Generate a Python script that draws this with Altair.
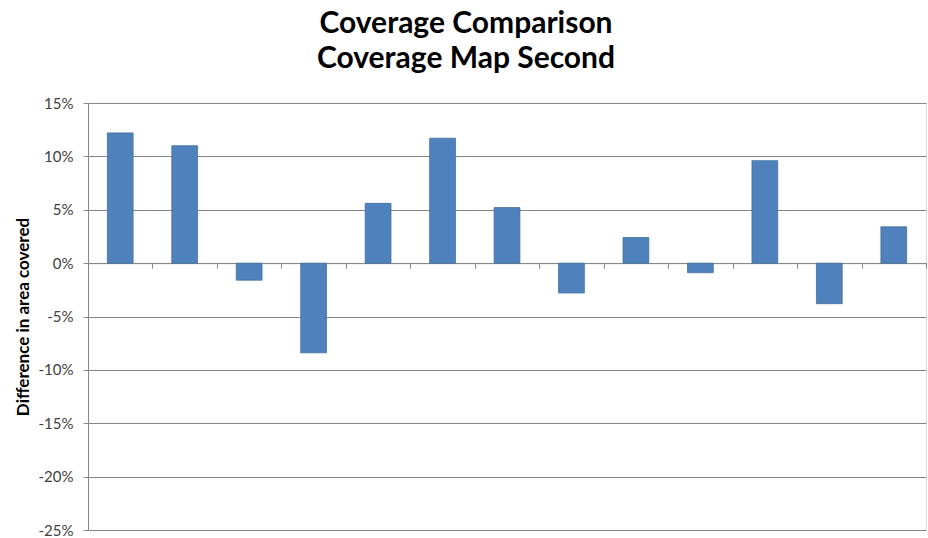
import altair as alt
import pandas as pd

categories = [str(i) for i in range(1, 14)]
values = [0.122, 0.110, -0.016, -0.084, 0.056, 0.117, 0.052, -0.028, 0.024, -0.009, 0.096, -0.038, 0.034]
y_ticks = [-0.25, -0.20, -0.15, -0.10, -0.05, 0.0, 0.05, 0.10, 0.15]

df = pd.DataFrame({"cat": categories, "val": values})

W, H = 838, 427
zero_from_bottom = H * 25 / 40

bars = alt.Chart(df).mark_bar(
    width=alt.RelativeBandSize(0.4), color="#4F81BD", stroke="#41719C", strokeWidth=0.8
).encode(
    x=alt.X("cat:N", sort=categories,
            scale=alt.Scale(paddingInner=0, paddingOuter=0),
            axis=alt.Axis(title=None, labels=False, tickBand="extent", tickSize=5,
                          tickColor="#868686", domainColor="#868686",
                          offset=-zero_from_bottom, grid=False)),
    y=alt.Y("val:Q", scale=alt.Scale(domain=[-0.25, 0.15], nice=False),
            axis=alt.Axis(values=y_ticks, format=".0%",
                          labelExpr="replace(datum.label, '\u2212', '-')",
                          title="Difference in area covered",
                          titleFont="Lato", titleFontSize=17, titleFontWeight="bold",
                          titleColor="#000000", titlePadding=6,
                          labelFont="Lato", labelFontSize=15, labelColor="#404040",
                          labelPadding=10, tickSize=5, tickColor="#868686",
                          domainColor="#868686", gridColor="#868686", gridWidth=1)),
)

chart = bars.properties(
    width=W, height=H,
    title=alt.TitleParams(["Coverage Comparison", "Coverage Map Second"], font="Lato",
                          fontSize=30, fontWeight="bold", color="#000000",
                          anchor="middle", dx=-41, offset=22, lineHeight=35),
    autosize=alt.AutoSizeParams(type="none"),
    padding={"left": 88, "top": 103, "right": 2, "bottom": 8},
).configure_view(stroke=None).configure(background="white")

chart.save("out.html", embed_options={"renderer": "svg", "actions": False})
